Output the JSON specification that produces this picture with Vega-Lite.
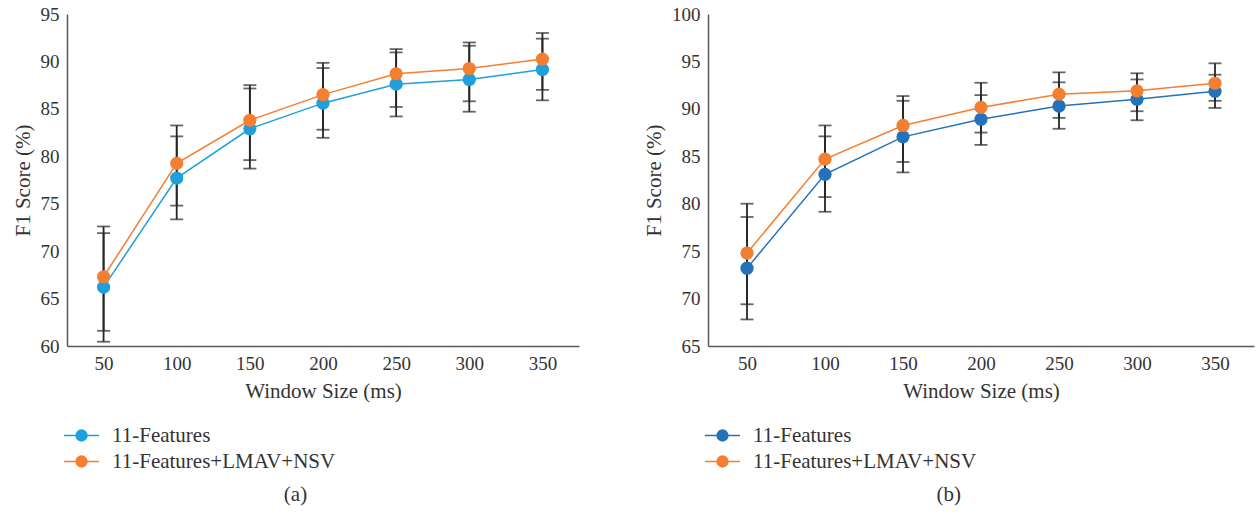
{
  "$schema": "https://vega.github.io/schema/vega-lite/v6.json",
  "padding": {"left": 12, "right": 1, "top": 5, "bottom": 5},
  "spacing": 64,
  "resolve": {"scale": {"fill": "independent", "stroke": "independent", "x": "independent", "y": "independent"}},
  "config": {
    "view": {"stroke": null},
    "font": "serif",
    "axis": {
      "domainColor": "#595959", "domainWidth": 1.5, "ticks": false, "tickSize": 0, "grid": false,
      "labelFont": "serif", "labelFontSize": 19, "labelColor": "#333333", "labelPadding": 8,
      "titleFont": "serif", "titleFontSize": 21, "titleFontWeight": "normal", "titleColor": "#333333", "titlePadding": 7
    },
    "legend": {
      "labelFont": "serif", "labelFontSize": 21, "labelColor": "#333333", "labelLimit": 400,
      "rowPadding": 1, "labelOffset": 16, "offset": 20, "padding": 0
    },
    "title": {"font": "serif", "fontSize": 21, "fontWeight": "normal", "color": "#333333"}
  },
  "hconcat": [
    {
      "width": 512,
      "height": 332,
      "title": {"text": "(a)", "orient": "bottom", "anchor": "middle", "frame": "bounds", "offset": 12},
      "data": {"values": [
        {"w": 50, "s": "11-Features", "f1": 66.2, "lo": 60.45, "hi": 71.9},
        {"w": 100, "s": "11-Features", "f1": 77.7, "lo": 73.35, "hi": 82.1},
        {"w": 150, "s": "11-Features", "f1": 82.9, "lo": 78.7, "hi": 87.15},
        {"w": 200, "s": "11-Features", "f1": 85.6, "lo": 81.95, "hi": 89.3},
        {"w": 250, "s": "11-Features", "f1": 87.6, "lo": 84.2, "hi": 90.95},
        {"w": 300, "s": "11-Features", "f1": 88.1, "lo": 84.7, "hi": 91.65},
        {"w": 350, "s": "11-Features", "f1": 89.15, "lo": 85.9, "hi": 92.4},
        {"w": 50, "s": "11-Features+LMAV+NSV", "f1": 67.3, "lo": 61.6, "hi": 72.6},
        {"w": 100, "s": "11-Features+LMAV+NSV", "f1": 79.25, "lo": 74.8, "hi": 83.25},
        {"w": 150, "s": "11-Features+LMAV+NSV", "f1": 83.8, "lo": 79.6, "hi": 87.5},
        {"w": 200, "s": "11-Features+LMAV+NSV", "f1": 86.5, "lo": 82.8, "hi": 89.85},
        {"w": 250, "s": "11-Features+LMAV+NSV", "f1": 88.7, "lo": 85.2, "hi": 91.3},
        {"w": 300, "s": "11-Features+LMAV+NSV", "f1": 89.25, "lo": 85.8, "hi": 92.0},
        {"w": 350, "s": "11-Features+LMAV+NSV", "f1": 90.25, "lo": 87.0, "hi": 93.0}
      ]},
      "encoding": {
        "x": {"field": "w", "type": "quantitative", "scale": {"domain": [25, 375], "nice": false, "zero": false},
              "axis": {"values": [50, 100, 150, 200, 250, 300, 350], "title": "Window Size (ms)"}}
      },
      "layer": [
        {"mark": {"type": "rule", "color": "#262626", "strokeWidth": 1.8},
         "encoding": {
           "y": {"field": "lo", "type": "quantitative", "scale": {"domain": [60, 95], "nice": false, "zero": false},
                 "axis": {"values": [60, 65, 70, 75, 80, 85, 90, 95], "title": "F1 Score (%)"}},
           "y2": {"field": "hi"}}},
        {"mark": {"type": "tick", "orient": "horizontal", "color": "#262626", "thickness": 1.8, "size": 13},
         "encoding": {"y": {"field": "lo", "type": "quantitative"}}},
        {"mark": {"type": "tick", "orient": "horizontal", "color": "#262626", "thickness": 1.8, "size": 13},
         "encoding": {"y": {"field": "hi", "type": "quantitative"}}},
        {"mark": {"type": "line", "strokeWidth": 1.5},
         "encoding": {
           "y": {"field": "f1", "type": "quantitative"},
           "stroke": {"field": "s", "type": "nominal",
             "scale": {"domain": ["11-Features", "11-Features+LMAV+NSV"], "range": ["#1FA0DB", "#F47F30"]},
             "legend": {"title": null, "orient": "bottom", "direction": "vertical",
               "symbolType": "M-1.3,0H1.3M-0.4,0a0.4,0.4 0 1,0 0.8,0a0.4,0.4 0 1,0 -0.8,0",
               "symbolSize": 729, "symbolStrokeWidth": 1.5}}}},
        {"mark": {"type": "point", "filled": true, "size": 175, "opacity": 1},
         "encoding": {
           "y": {"field": "f1", "type": "quantitative"},
           "fill": {"field": "s", "type": "nominal",
             "scale": {"domain": ["11-Features", "11-Features+LMAV+NSV"], "range": ["#1FA0DB", "#F47F30"]},
             "legend": {"title": null, "orient": "bottom", "direction": "vertical",
               "symbolType": "M-1.3,0H1.3M-0.4,0a0.4,0.4 0 1,0 0.8,0a0.4,0.4 0 1,0 -0.8,0",
               "symbolSize": 729, "symbolStrokeWidth": 1.5}}}}
      ]
    },
    {
      "width": 546,
      "height": 332,
      "title": {"text": "(b)", "orient": "bottom", "anchor": "middle", "frame": "bounds", "offset": 12},
      "data": {"values": [
        {"w": 50, "s": "11-Features", "f1": 73.2, "lo": 67.8, "hi": 78.6},
        {"w": 100, "s": "11-Features", "f1": 83.1, "lo": 79.15, "hi": 87.1},
        {"w": 150, "s": "11-Features", "f1": 87.05, "lo": 83.3, "hi": 90.85},
        {"w": 200, "s": "11-Features", "f1": 88.9, "lo": 86.2, "hi": 91.45},
        {"w": 250, "s": "11-Features", "f1": 90.3, "lo": 87.9, "hi": 92.8},
        {"w": 300, "s": "11-Features", "f1": 91.0, "lo": 88.8, "hi": 93.1},
        {"w": 350, "s": "11-Features", "f1": 91.85, "lo": 90.1, "hi": 93.6},
        {"w": 50, "s": "11-Features+LMAV+NSV", "f1": 74.8, "lo": 69.4, "hi": 80.0},
        {"w": 100, "s": "11-Features+LMAV+NSV", "f1": 84.7, "lo": 80.7, "hi": 88.25},
        {"w": 150, "s": "11-Features+LMAV+NSV", "f1": 88.25, "lo": 84.4, "hi": 91.35},
        {"w": 200, "s": "11-Features+LMAV+NSV", "f1": 90.15, "lo": 87.5, "hi": 92.75},
        {"w": 250, "s": "11-Features+LMAV+NSV", "f1": 91.55, "lo": 89.05, "hi": 93.85},
        {"w": 300, "s": "11-Features+LMAV+NSV", "f1": 91.9, "lo": 89.75, "hi": 93.75},
        {"w": 350, "s": "11-Features+LMAV+NSV", "f1": 92.7, "lo": 90.85, "hi": 94.8}
      ]},
      "encoding": {
        "x": {"field": "w", "type": "quantitative", "scale": {"domain": [25, 375], "nice": false, "zero": false},
              "axis": {"values": [50, 100, 150, 200, 250, 300, 350], "title": "Window Size (ms)"}}
      },
      "layer": [
        {"mark": {"type": "rule", "color": "#262626", "strokeWidth": 1.8},
         "encoding": {
           "y": {"field": "lo", "type": "quantitative", "scale": {"domain": [65, 100], "nice": false, "zero": false},
                 "axis": {"values": [65, 70, 75, 80, 85, 90, 95, 100], "title": "F1 Score (%)"}},
           "y2": {"field": "hi"}}},
        {"mark": {"type": "tick", "orient": "horizontal", "color": "#262626", "thickness": 1.8, "size": 13},
         "encoding": {"y": {"field": "lo", "type": "quantitative"}}},
        {"mark": {"type": "tick", "orient": "horizontal", "color": "#262626", "thickness": 1.8, "size": 13},
         "encoding": {"y": {"field": "hi", "type": "quantitative"}}},
        {"mark": {"type": "line", "strokeWidth": 1.5},
         "encoding": {
           "y": {"field": "f1", "type": "quantitative"},
           "stroke": {"field": "s", "type": "nominal",
             "scale": {"domain": ["11-Features", "11-Features+LMAV+NSV"], "range": ["#2472BA", "#F47F30"]},
             "legend": {"title": null, "orient": "bottom", "direction": "vertical",
               "symbolType": "M-1.3,0H1.3M-0.4,0a0.4,0.4 0 1,0 0.8,0a0.4,0.4 0 1,0 -0.8,0",
               "symbolSize": 729, "symbolStrokeWidth": 1.5}}}},
        {"mark": {"type": "point", "filled": true, "size": 175, "opacity": 1},
         "encoding": {
           "y": {"field": "f1", "type": "quantitative"},
           "fill": {"field": "s", "type": "nominal",
             "scale": {"domain": ["11-Features", "11-Features+LMAV+NSV"], "range": ["#2472BA", "#F47F30"]},
             "legend": {"title": null, "orient": "bottom", "direction": "vertical",
               "symbolType": "M-1.3,0H1.3M-0.4,0a0.4,0.4 0 1,0 0.8,0a0.4,0.4 0 1,0 -0.8,0",
               "symbolSize": 729, "symbolStrokeWidth": 1.5}}}}
      ]
    }
  ]
}
